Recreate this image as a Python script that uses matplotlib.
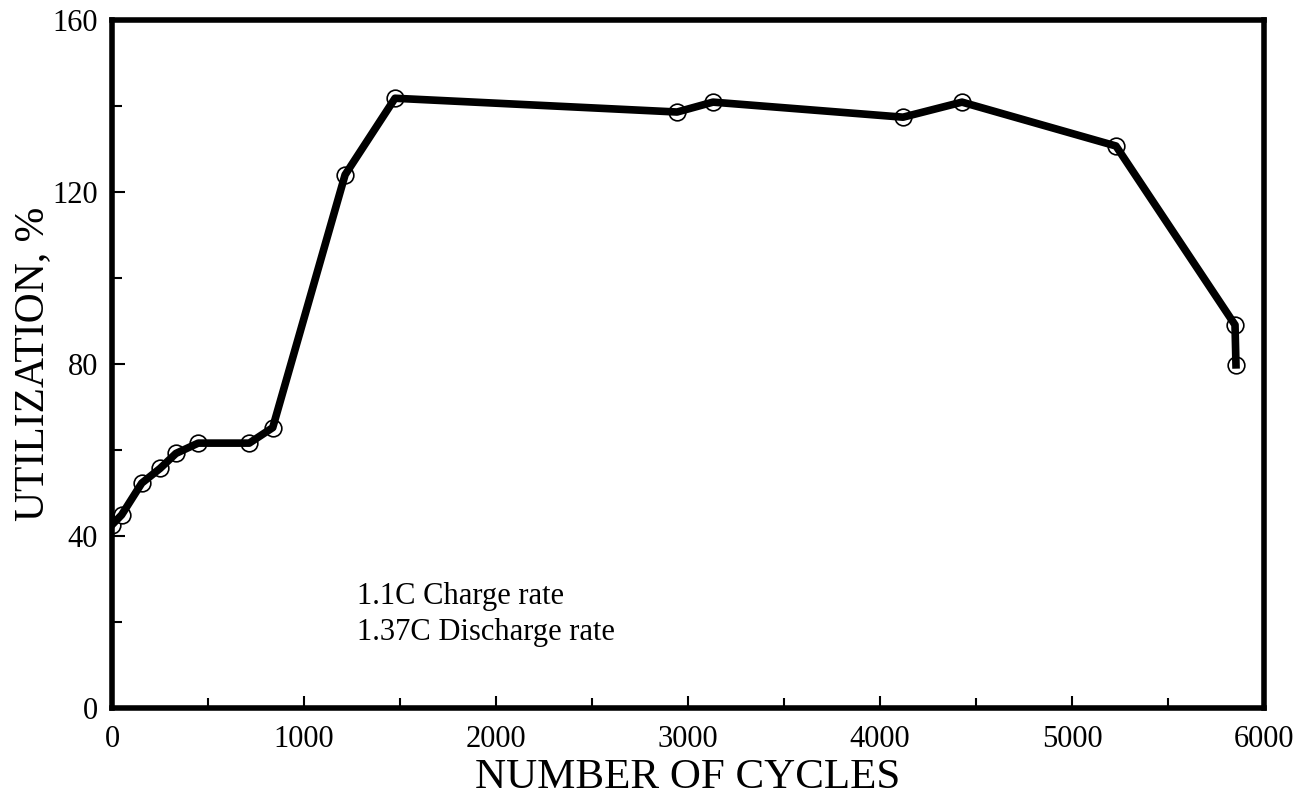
import matplotlib.pyplot as plt
from matplotlib.ticker import MultipleLocator

# utilization vs. cycle number
cycles = [0, 50, 155, 250, 333, 449, 715, 837, 1214, 1474,
          2943, 3130, 4120, 4427, 5229, 5849, 5854]
utilization = [42.6, 44.9, 52.3, 55.7, 59.2, 61.6, 61.6, 65.2, 124.0, 141.8,
               138.6, 140.9, 137.4, 140.9, 130.7, 89.1, 79.8]

x_ticks = [0, 1000, 2000, 3000, 4000, 5000, 6000]
y_ticks = [0, 40, 80, 120, 160]

plt.rcParams['font.family'] = ['Liberation Serif', 'DejaVu Serif']

fig = plt.figure(figsize=(13.01, 8.02), dpi=100)
ax = fig.add_axes([112 / 1301, 94 / 802, 1152 / 1301, 688 / 802])

ax.plot(cycles, utilization, 'o', ms=12, mfc='white', mec='black', mew=1.2, zorder=2)
ax.plot(cycles, utilization, color='black', lw=5.5, solid_joinstyle='round', zorder=3)

ax.set_xlim(0, 6000)
ax.set_ylim(0, 160)
ax.set_xticks(x_ticks)
ax.set_yticks(y_ticks)
ax.xaxis.set_minor_locator(MultipleLocator(500))
ax.yaxis.set_minor_locator(MultipleLocator(20))

for s in ax.spines.values():
    s.set_linewidth(4)
ax.tick_params(which='both', direction='in', width=1.5, top=False, right=False)
ax.tick_params(which='major', length=9)
ax.tick_params(which='minor', length=7)
ax.tick_params(axis='x', labelsize=22, pad=12)
ax.tick_params(axis='y', labelsize=22, pad=10)

ax.set_xlabel('NUMBER OF CYCLES', fontsize=31)
ax.xaxis.set_label_coords(0.5, -0.073)
ax.set_ylabel('UTILIZATION, %', fontsize=30)
ax.yaxis.set_label_coords(-0.052, 0.5)

ax.text(0.213, 0.136, '1.1C Charge rate\n1.37C Discharge rate',
        transform=ax.transAxes, fontsize=22, va='center', ha='left',
        linespacing=1.3)

fig.savefig('out.png', dpi=100)
